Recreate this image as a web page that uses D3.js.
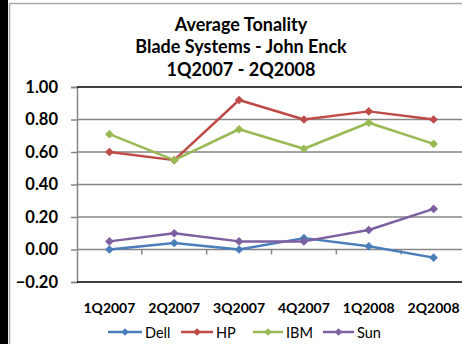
<!DOCTYPE html>
<html><head><meta charset="utf-8">
<script src="https://cdn.jsdelivr.net/npm/d3@7"></script>
<style>body{margin:0;background:#fff}svg{display:block}text{font-family:Lato,"Open Sans",sans-serif}</style>
</head><body>
<script>
const categories = ["1Q2007","2Q2007","3Q2007","4Q2007","1Q2008","2Q2008"];
const dell = [0.00, 0.04, 0.00, 0.07, 0.02, -0.05];
const hp   = [0.60, 0.55, 0.92, 0.80, 0.85, 0.80];
const ibm  = [0.71, 0.55, 0.74, 0.62, 0.78, 0.65];
const sun  = [0.05, 0.10, 0.05, 0.05, 0.12, 0.25];
const seriesNames = ["Dell","HP","IBM","Sun"];
const yTicks = [-0.2, 0, 0.2, 0.4, 0.6, 0.8, 1.0];
const titleLines = ["Average Tonality","Blade Systems - John Enck","1Q2007 - 2Q2008"];

(function(){
const series = [
  {name: seriesNames[0], values: dell, color: "#4a7ebb"},
  {name: seriesNames[1], values: hp,   color: "#be4b48"},
  {name: seriesNames[2], values: ibm,  color: "#98b954"},
  {name: seriesNames[3], values: sun,  color: "#7d60a0"}
];

const W = 462, H = 344;
const svg = d3.select("body").append("svg").attr("width", W).attr("height", H);

// outer frame
svg.append("rect").attr("x",0).attr("y",0).attr("width",8).attr("height",H).attr("fill","#000");
svg.append("line").attr("x1",9.5).attr("x2",9.5).attr("y1",3.5).attr("y2",H).attr("stroke","#a6a6a6").attr("stroke-width",1.5);
svg.append("line").attr("x1",9.5).attr("x2",W).attr("y1",3.5).attr("y2",3.5).attr("stroke","#a6a6a6").attr("stroke-width",1.5);

const pL = 77, pR = 466, pT = 87, pB = 282;
const x = d3.scaleBand().domain(categories).range([pL, pR]);
const y = d3.scaleLinear().domain([-0.2, 1.0]).range([pB, pT]);

// title
svg.append("g").selectAll("text").data(titleLines).join("text")
  .attr("x", 241).attr("y", (d,i) => 30.5 + i*22.7)
  .attr("text-anchor","middle").attr("font-weight","bold").attr("font-size","18px")
  .attr("fill","#000").text(d => d);

// y axis
const yAxis = d3.axisLeft(y).tickValues(yTicks).tickFormat(d3.format(".2f")).tickSize(6).tickPadding(13);
const gy = svg.append("g").attr("transform",`translate(${pL},0)`).call(yAxis);
gy.select(".domain").attr("stroke","#868686").attr("stroke-width",1.5);
gy.selectAll(".tick line").attr("stroke","#868686").attr("stroke-width",1.5);
gy.selectAll(".tick text").attr("font-size","16.5px").attr("font-weight","bold").attr("fill","#000")
  .attr("font-family","Lato,sans-serif");

// gridlines
svg.append("g").selectAll("line").data(yTicks.filter(v => v > -0.2 && v < 1.0)).join("line")
  .attr("x1", pL).attr("x2", W).attr("y1", d => y(d)).attr("y2", d => y(d))
  .attr("stroke","#868686").attr("stroke-width",1.5);

// plot border top/bottom
svg.append("line").attr("x1",pL).attr("x2",W).attr("y1",y(1.0)).attr("y2",y(1.0)).attr("stroke","#000").attr("stroke-width",1.5);
svg.append("line").attr("x1",pL).attr("x2",W).attr("y1",y(-0.2)).attr("y2",y(-0.2)).attr("stroke","#000").attr("stroke-width",1.5);

// category boundary ticks on zero line
const bounds = categories.slice(1).map(c => x(c));
svg.append("g").selectAll("line").data(bounds).join("line")
  .attr("x1", d => d).attr("x2", d => d).attr("y1", y(0)).attr("y2", y(0)+5)
  .attr("stroke","#868686").attr("stroke-width",1.5);

// x labels below plot
svg.append("g").selectAll("text").data(categories).join("text")
  .attr("x", d => x(d) + x.bandwidth()/2).attr("y", 313)
  .attr("text-anchor","middle").attr("font-weight","bold").attr("font-size","14px").attr("fill","#000")
  .text(d => d);

// lines
const line = d3.line().x((d,i) => x(categories[i]) + x.bandwidth()/2).y(d => y(d));
series.forEach(s => {
  svg.append("path").datum(s.values).attr("d", line).attr("fill","none")
    .attr("stroke", s.color).attr("stroke-width",2.5).attr("stroke-linejoin","round");
  svg.append("g").selectAll("path").data(s.values).join("path")
    .attr("d", d3.symbol().type(d3.symbolSquare).size(38))
    .attr("transform",(d,i) => `translate(${x(categories[i]) + x.bandwidth()/2},${y(d)}) rotate(45)`)
    .attr("fill", s.color);
});

// legend
const legendX = [108, 181, 253, 323];
const legendW = [34, 32, 30, 31];
const lg = svg.append("g");
series.forEach((s,i) => {
  const g = lg.append("g").attr("transform",`translate(${legendX[i]},332)`);
  g.append("line").attr("x1",0).attr("x2",legendW[i]).attr("y1",0).attr("y2",0).attr("stroke",s.color).attr("stroke-width",2.5);
  g.append("path").attr("d", d3.symbol().type(d3.symbolSquare).size(30)).attr("transform",`translate(${legendW[i]/2},0) rotate(45)`).attr("fill",s.color);
  g.append("text").attr("x", legendW[i]+3).attr("y",5.5).attr("font-size","14.5px").attr("fill","#000").text(s.name);
});
})();
</script>
</body></html>
